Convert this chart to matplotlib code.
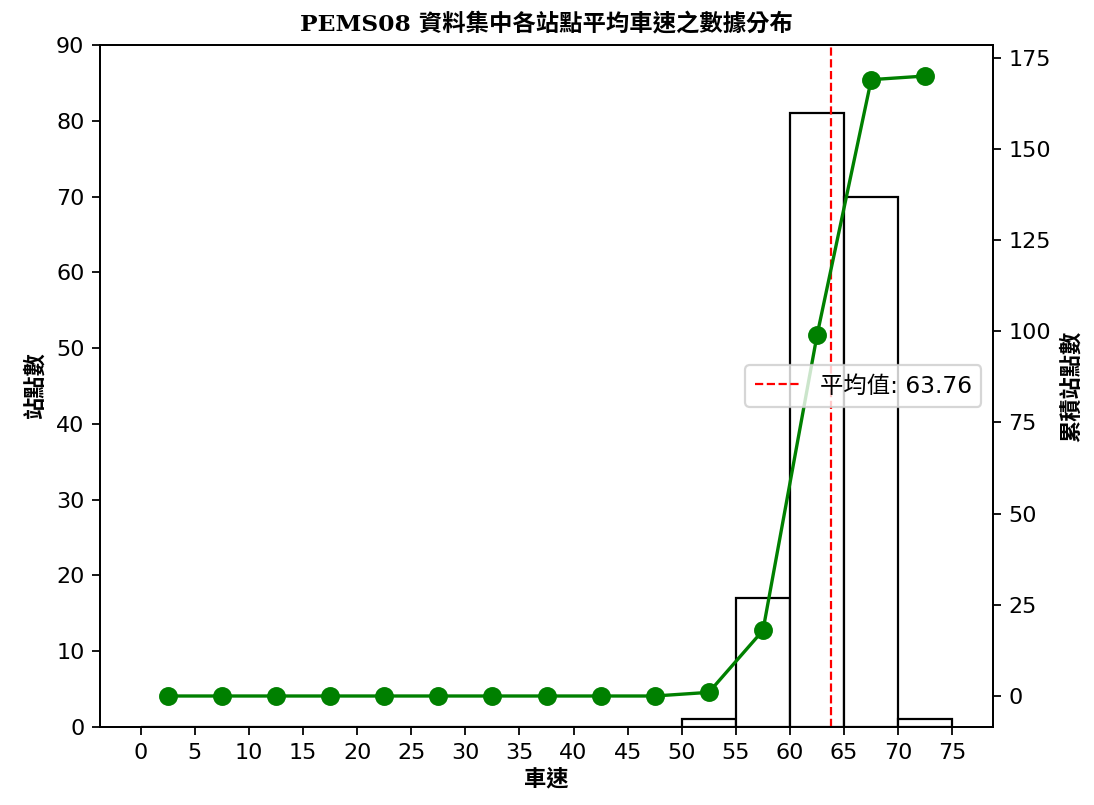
import numpy as np
import matplotlib
matplotlib.use("Agg")
import matplotlib.pyplot as plt

plt.rcParams['font.family'] = ['DejaVu Sans', 'Noto Sans CJK TC']

# 資料
bin_edges = [0, 5, 10, 15, 20, 25, 30, 35, 40, 45, 50, 55, 60, 65, 70, 75]
counts = [0, 0, 0, 0, 0, 0, 0, 0, 0, 0, 1, 17, 81, 70, 1]
mean_speed = 63.76
xticks = list(range(0, 80, 5))

edges = np.array(bin_edges)
centers = (edges[:-1] + edges[1:]) / 2
cum = np.cumsum(counts)

dpi = 160
fig = plt.figure(figsize=(1094 / dpi, 805 / dpi), dpi=dpi)
ax = fig.add_axes([100 / 1094, 1 - 727 / 805, 893 / 1094, 682 / 805])

ax.bar(edges[:-1], counts, width=np.diff(edges), align='edge',
       color='white', edgecolor='black', linewidth=1)
line_mean = ax.axvline(mean_speed, color='red', linestyle='--', linewidth=1,
                       label=f'平均值: {mean_speed:.2f}')
ax.set_ylim(0, 90)
ax.set_xticks(xticks)
ax.set_xlabel('車速', family=['Noto Sans CJK TC'], fontweight='bold', labelpad=2)
ax.set_ylabel('站點數', family=['Noto Sans CJK TC'], fontweight='bold')
ax.set_title('PEMS08 資料集中各站點平均車速之數據分布',
             family=['DejaVu Serif', 'Noto Sans CJK TC'], fontsize=10.5,
             fontweight='bold')

ax2 = ax.twinx()
ax2.plot(centers, cum, color='green', marker='o', markersize=7.5, linewidth=1.5)
ax2.set_ylabel('累積站點數', family=['Noto Sans CJK TC'], fontweight='bold')
ax2.legend(handles=[line_mean], loc='center right',
           prop={'family': ['DejaVu Sans', 'Noto Sans CJK TC'], 'size': 10.5})

fig.savefig('out.png', dpi=dpi)
